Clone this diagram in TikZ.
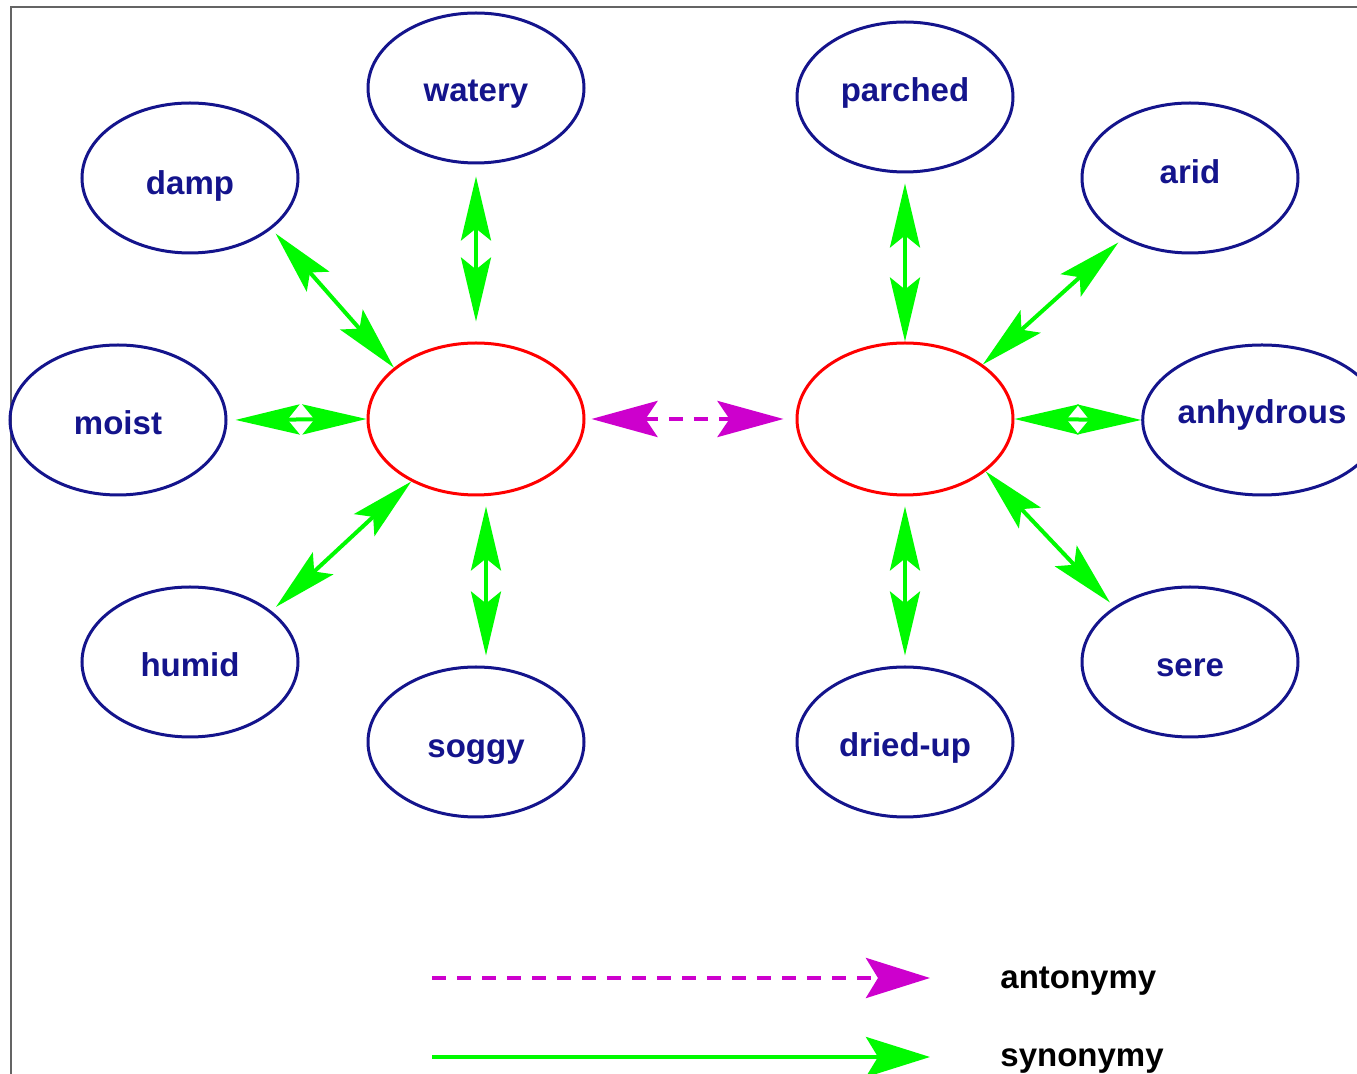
\documentclass[tikz,border=0pt]{standalone}
\usepackage{fontspec}
\setmainfont{Liberation Sans}
\usetikzlibrary{shapes.geometric,arrows.meta}
\definecolor{navy}{RGB}{20,20,140}
\definecolor{linkgreen}{RGB}{0,250,0}
\definecolor{antmag}{RGB}{205,0,205}
\definecolor{framegray}{RGB}{100,100,100}
\tikzset{
  word/.style={ellipse,draw=navy,line width=1.5pt,minimum width=108pt,minimum height=75pt,inner sep=0pt,
    font=\fontsize{16.5}{18}\selectfont\bfseries,text=navy},
  core/.style={ellipse,draw=red,line width=1.5pt,minimum width=108pt,minimum height=76pt,inner sep=0pt},
  syn/.style={draw=linkgreen,line width=2pt,{Stealth[length=32pt,width=15pt,inset=6pt]}-{Stealth[length=32pt,width=15pt,inset=6pt]}},
  ant/.style={draw=antmag,line width=2.2pt,dash pattern=on 7pt off 5.5pt,{Stealth[length=33pt,width=18pt,inset=6pt]}-{Stealth[length=33pt,width=18pt,inset=6pt]}},
  legendtext/.style={anchor=west,inner sep=0pt,font=\fontsize{16.5}{18}\selectfont\bfseries,text=black}
}
\newcommand{\dn}[2]{\raisebox{#1}[\height][\depth]{#2}}
\begin{document}
\begin{tikzpicture}[x=0.5pt,y=-0.5pt]
\clip (0,0) rectangle (1357,1074);
\fill[white] (0,0) rectangle (1357,1074);
\draw[framegray,line width=1pt] (11,1074) -- (11,7) -- (1357,7);
% left cluster
\node[core] (wet) at (476,419) {};
\node[word] (watery) at (476,88) {\dn{-3pt}{watery}};
\node[word] (damp) at (190,178) {\dn{-4pt}{damp}};
\node[word] (moist) at (118,420) {\dn{-1.5pt}{moist}};
\node[word] (humid) at (190,662) {\dn{-1.5pt}{humid}};
\node[word] (soggy) at (476,742) {\dn{-5pt}{soggy}};
% right cluster
\node[core] (dry) at (905,419) {};
\node[word] (parched) at (905,97) {\dn{2pt}{parched}};
\node[word] (arid) at (1190,178) {\dn{3pt}{arid}};
\node[word] (anhydrous) at (1262,420) {\dn{2.5pt}{anhydrous}};
\node[word] (sere) at (1190,662) {\dn{-3pt}{sere}};
\node[word] (driedup) at (905,742) {\dn{-3pt}{dried-up}};
% synonymy links
\draw[syn,shorten <=6pt,shorten >=10pt] (watery) -- (wet);
\draw[syn,shorten <=3pt] (damp.-32) -- (wet.148);
\draw[syn,shorten <=4pt] (moist.east) -- (wet.west);
\draw[syn,shorten <=3pt] (humid.32) -- (wet.224);
\draw[syn,shorten <=5pt,shorten >=5pt] ([xshift=5pt]wet.south) -- ([xshift=5pt]soggy.north);
\draw[syn,shorten <=5pt] (parched) -- (dry);
\draw[syn,shorten <=3pt] (arid.222) -- (dry.35);
\draw[syn] (dry.east) -- (anhydrous.west);
\draw[syn,shorten >=3pt] (dry.-33) -- (sere.144);
\draw[syn,shorten <=5pt,shorten >=5pt] (dry) -- (driedup);
% antonymy
\draw[ant,shorten <=3pt,shorten >=6pt] (wet.east) -- (dry.west);
% legend
\coordinate (antA) at (432,978);
\coordinate (antB) at (930,978);
\coordinate (synA) at (432,1057);
\coordinate (synB) at (930,1057);
\node[legendtext] (antlabel) at (1000,981) {antonymy};
\node[legendtext] (synlabel) at (1000,1061) {synonymy};
\draw[draw=antmag,line width=2.2pt,dash pattern=on 7pt off 5.5pt,-{Stealth[length=32pt,width=20pt,inset=6pt]}] (antA) -- (antB);
\draw[draw=linkgreen,line width=2pt,-{Stealth[length=32pt,width=20pt,inset=6pt]}] (synA) -- (synB);
\end{tikzpicture}
\end{document}
